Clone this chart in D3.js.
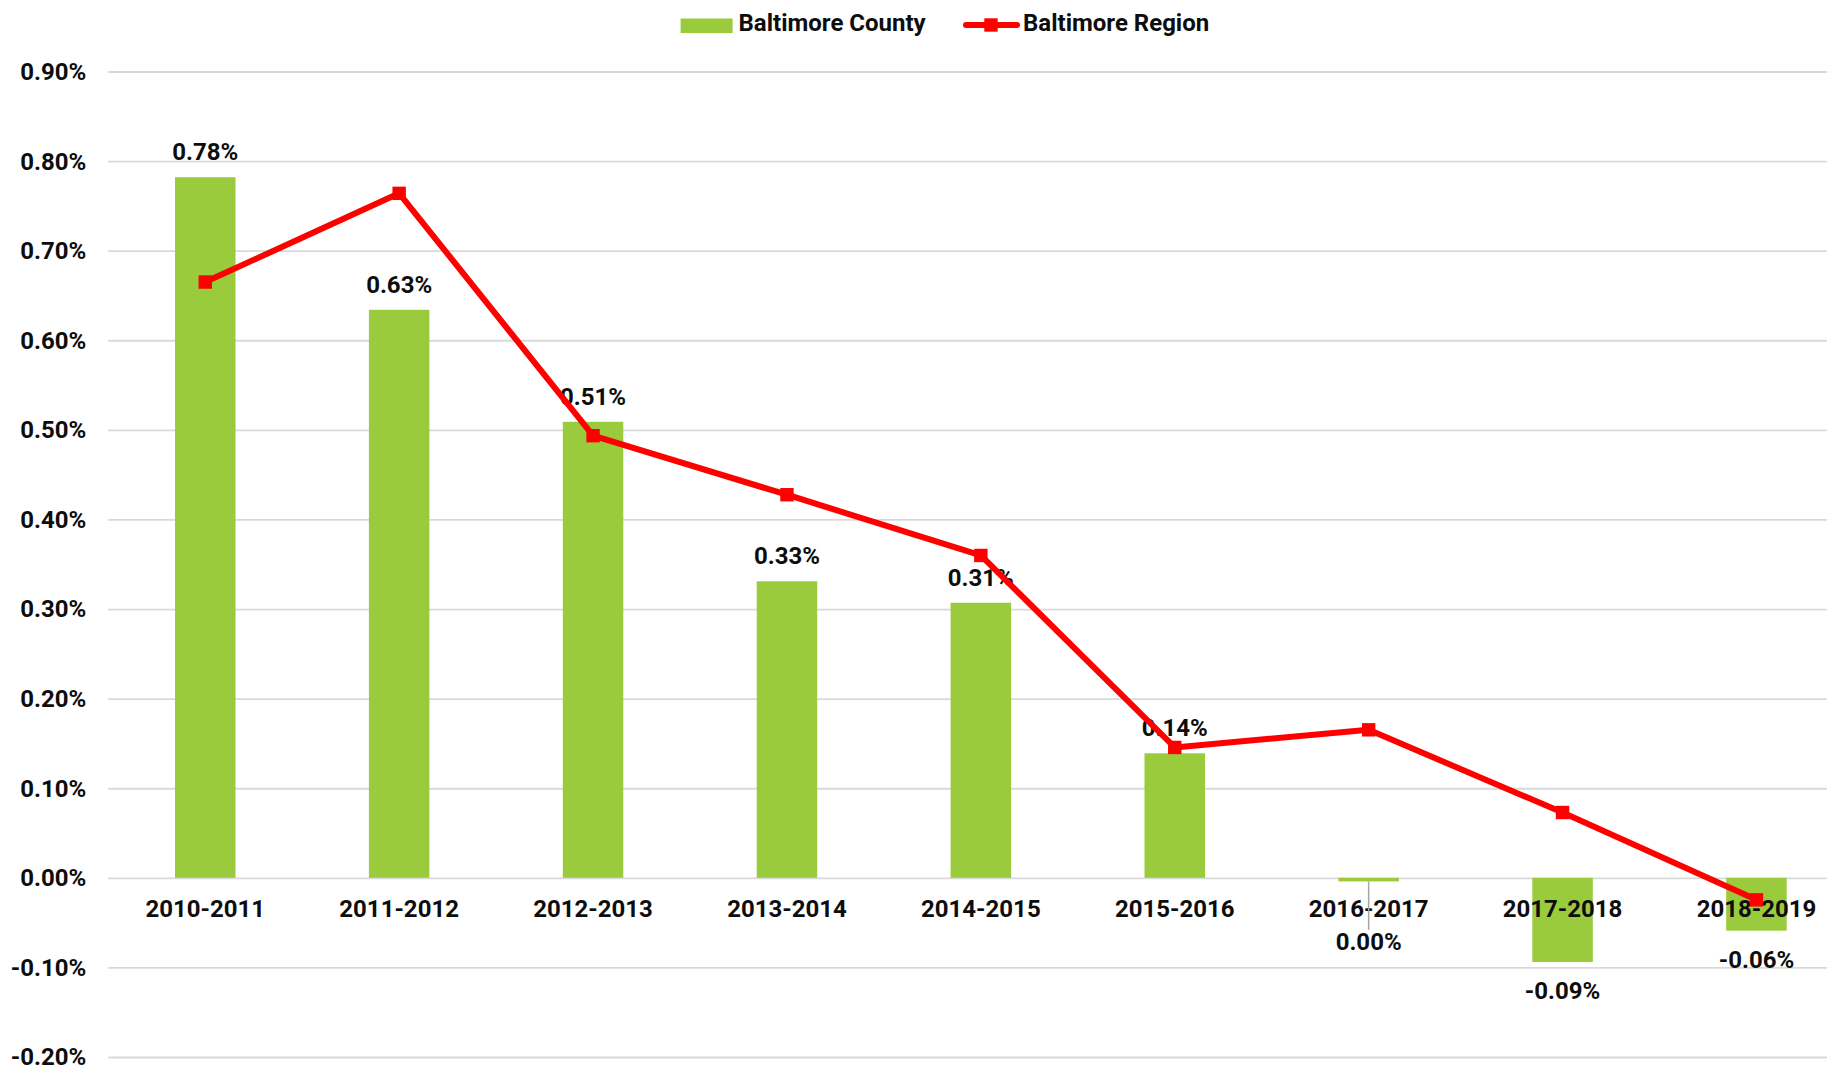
<!DOCTYPE html>
<html>
<head>
<meta charset="utf-8">
<script src="https://cdn.jsdelivr.net/npm/d3@7"></script>
<style>
  html, body { margin: 0; padding: 0; background: #fff; }
  svg { display: block; font-family: Roboto, "Noto Sans", Arial, sans-serif; font-weight: 700; }
</style>
</head>
<body>
<svg id="chart" width="1827" height="1067"></svg>
<script>
// ---- data ----
const categories = ["2010-2011","2011-2012","2012-2013","2013-2014","2014-2015","2015-2016","2016-2017","2017-2018","2018-2019"];
const countyValues = [0.782, 0.634, 0.509, 0.331, 0.307, 0.139, -0.004, -0.094, -0.059];
const countyLabels = ["0.78%","0.63%","0.51%","0.33%","0.31%","0.14%","0.00%","-0.09%","-0.06%"];
const regionValues = [0.665, 0.764, 0.4935, 0.4276, 0.3598, 0.1455, 0.1652, 0.0729, -0.0246];
const yTicks = [-0.2, -0.1, 0, 0.1, 0.2, 0.3, 0.4, 0.5, 0.6, 0.7, 0.8, 0.9];
const seriesNames = ["Baltimore County", "Baltimore Region"];

// ---- layout ----
const W = 1827, H = 1067;
const plotLeft = 108.3, plotRight = 1853.4, plotTop = 71.5, plotBottom = 1057;
const green = "#9ACB3C", red = "#FF0000", gridColor = "#D9D9D9", textColor = "#0D0D0D";

const svg = d3.select("#chart");

const x = d3.scaleBand().domain(categories).range([plotLeft, plotRight]).padding(0);
const y = d3.scaleLinear().domain([-0.2, 0.9]).range([plotBottom, plotTop]);
const barW = x.bandwidth() * 0.312;
const cx = d => x(d) + x.bandwidth() / 2;

// gridlines + y labels
const yAxis = d3.axisLeft(y).tickValues(yTicks).tickSize(-(W - plotLeft)).tickPadding(22)
  .tickFormat(d => d.toFixed(2) + "%");
const gy = svg.append("g").attr("transform", `translate(${plotLeft},0)`).call(yAxis);
gy.select(".domain").remove();
gy.selectAll(".tick line").attr("stroke", gridColor).attr("stroke-width", 1.8);
gy.selectAll(".tick text").attr("fill", textColor).attr("font-size", 24).attr("font-weight", 700)
  .attr("font-family", "Roboto, sans-serif").attr("dy", "0.33em");

// bars
svg.append("g").selectAll("rect").data(categories).join("rect")
  .attr("x", d => cx(d) - barW / 2)
  .attr("width", barW)
  .attr("y", (d, i) => Math.min(y(countyValues[i]), y(0)))
  .attr("height", (d, i) => Math.abs(y(countyValues[i]) - y(0)))
  .attr("fill", green);

// x category labels
svg.append("g").selectAll("text").data(categories).join("text")
  .attr("x", d => cx(d))
  .attr("y", y(0) + 39)
  .attr("text-anchor", "middle")
  .attr("font-size", 24)
  .attr("fill", textColor)
  .text(d => d);

// data labels for bars
const nearZero = v => Math.abs(v) < 0.01;
const labelY = v => {
  if (nearZero(v)) return y(0) + 72;          // label pulled away with leader line
  return v >= 0 ? y(v) - 17 : y(v) + 37;
};
// leader line for near-zero label
categories.forEach((c, i) => {
  const v = countyValues[i];
  if (nearZero(v)) {
    svg.append("line")
      .attr("x1", cx(c)).attr("x2", cx(c))
      .attr("y1", y(v)).attr("y2", y(0) + 52)
      .attr("stroke", "#A6A6A6").attr("stroke-width", 1.5);
  }
});
svg.append("g").selectAll("text").data(categories).join("text")
  .attr("x", d => cx(d))
  .attr("y", (d, i) => labelY(countyValues[i]))
  .attr("text-anchor", "middle")
  .attr("font-size", 24)
  .attr("fill", textColor)
  .text((d, i) => countyLabels[i]);

// region line
const line = d3.line().x((d, i) => cx(categories[i])).y(d => y(d));
svg.append("path").datum(regionValues)
  .attr("d", line)
  .attr("fill", "none")
  .attr("stroke", red)
  .attr("stroke-width", 6)
  .attr("stroke-linejoin", "round");
const ms = 13.4;
svg.append("g").selectAll("rect").data(regionValues).join("rect")
  .attr("x", (d, i) => cx(categories[i]) - ms / 2)
  .attr("y", d => y(d) - ms / 2)
  .attr("width", ms).attr("height", ms)
  .attr("fill", red);

// legend
const lg = svg.append("g").attr("transform", "translate(0,-2.5)");
lg.append("rect").attr("x", 680.6).attr("y", 21).attr("width", 52).attr("height", 14.6).attr("fill", green);
lg.append("text").attr("x", 738.5).attr("y", 33.8).attr("font-size", 24).attr("fill", textColor).text(seriesNames[0]);
lg.append("line").attr("x1", 966).attr("x2", 1017).attr("y1", 27.5).attr("y2", 27.5)
  .attr("stroke", red).attr("stroke-width", 6).attr("stroke-linecap", "round");
lg.append("rect").attr("x", 984.3).attr("y", 20.8).attr("width", ms).attr("height", ms).attr("fill", red);
lg.append("text").attr("x", 1023).attr("y", 33.8).attr("font-size", 24).attr("fill", textColor).text(seriesNames[1]);
</script>
</body>
</html>
